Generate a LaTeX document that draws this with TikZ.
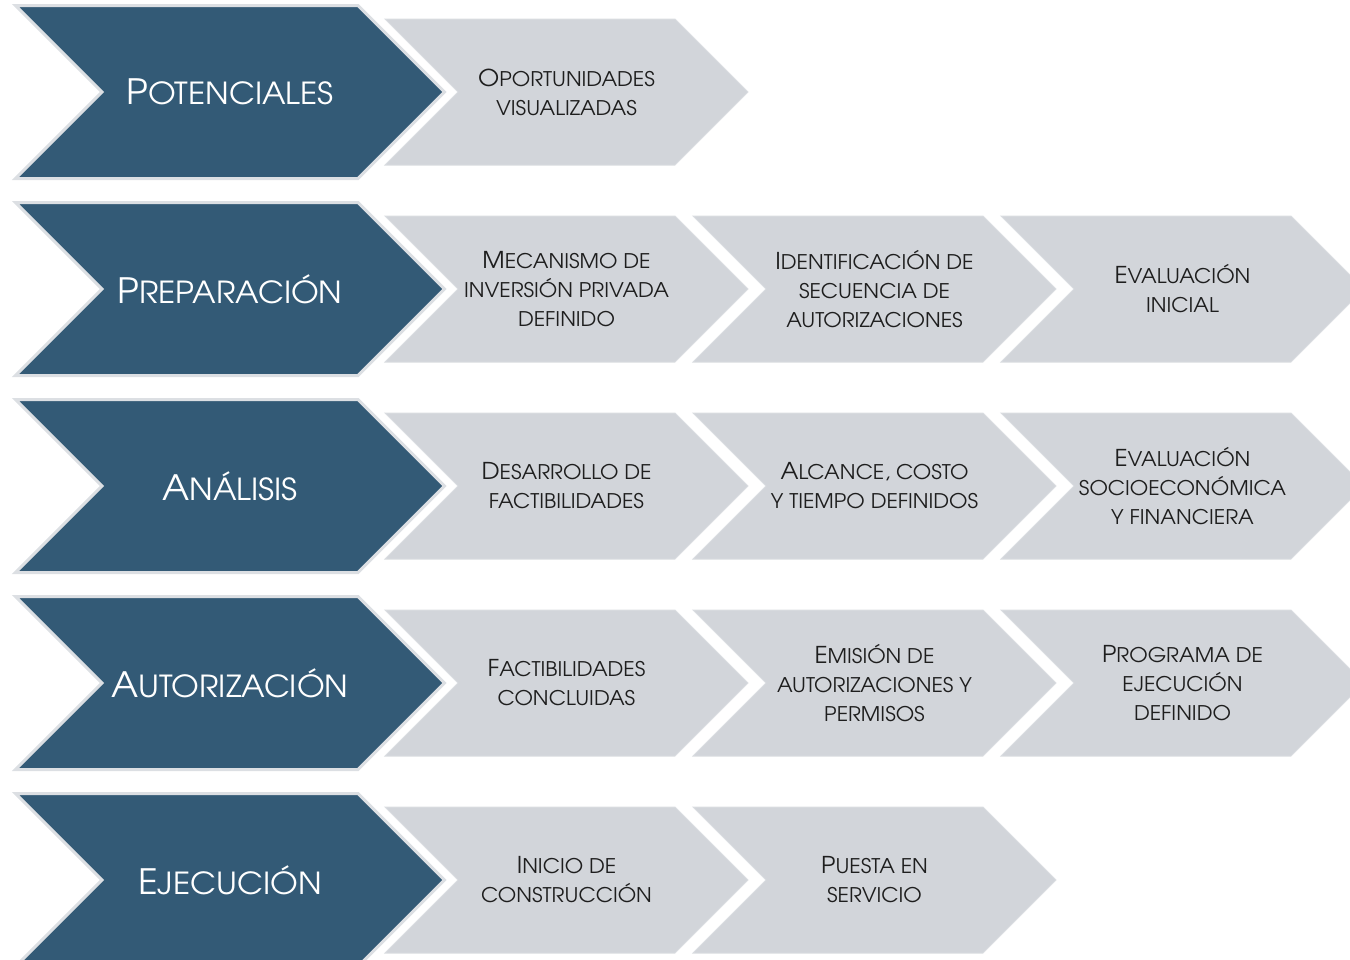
\documentclass[tikz,border=0pt]{standalone}
\usepackage{fontspec}
\setmainfont[FakeStretch=1.05]{TeX Gyre Adventor}
\usepackage{xcolor}
\usepackage{tikz}
\usetikzlibrary{shapes.symbols}

\definecolor{stagefill}{HTML}{335A76}
\definecolor{stageline}{HTML}{DCDFE3}
\definecolor{stepfill}{HTML}{D2D5DA}
\definecolor{stepline}{HTML}{DADDE1}
\definecolor{steptext}{HTML}{1E1E1E}

% small capitals by hand
\newcommand{\sml}[1]{{\fontsize{0.87em}{\baselineskip}\selectfont\MakeUppercase{#1}}}

\begin{document}
\begin{tikzpicture}[
  x=0.75pt, y=-0.75pt,
  chevron/.style={signal, signal to=east, signal from=west, signal pointer angle=90, inner sep=0pt, align=center},
  stage/.style={chevron, fill=stagefill, draw=stageline, line width=2.25pt, minimum width=321.75pt, minimum height=129.75pt,
    text=white, font=\fontsize{26.2pt}{30pt}\selectfont},
  stepbox/.style={chevron, fill=stepfill, draw=stepline, line width=0.75pt, minimum width=272.25pt, minimum height=109.5pt,
    text=steptext, font=\fontsize{17.4pt}{21.75pt}\selectfont}
]
\useasboundingbox (0,0) rectangle (1350,960);

% POTENCIALES
\node[stage] (pot) at (230,92) {P\sml{otenciales}};
\node[stepbox] (potA) at (566.5,92) {O\sml{portunidades}\\\sml{visualizadas}};

% PREPARACION
\node[stage] (prep) at (230,289) {P\sml{reparación}};
\node[stepbox] (prepA) at (566.5,289) {M\sml{ecanismo de}\\\sml{inversión privada}\\\sml{definido}};
\node[stepbox] (prepB) at (874.5,289) {I\sml{dentificación de}\\\sml{secuencia de}\\\sml{autorizaciones}};
\node[stepbox] (prepC) at (1182.5,289) {E\sml{valuación}\\\sml{inicial}};

% ANALISIS
\node[stage] (anal) at (230,486) {A\sml{nálisis}};
\node[stepbox] (analA) at (566.5,486) {D\sml{esarrollo de}\\\sml{factibilidades}};
\node[stepbox] (analB) at (874.5,486) {A\sml{lcance, costo}\\\sml{y tiempo definidos}};
\node[stepbox] (analC) at (1182.5,486) {E\sml{valuación}\\\sml{socioeconómica}\\\sml{y financiera}};

% AUTORIZACION
\node[stage] (auto) at (230,683) {A\sml{utorización}};
\node[stepbox] (autoA) at (566.5,683) {F\sml{actibilidades}\\\sml{concluidas}};
\node[stepbox] (autoB) at (874.5,683) {E\sml{misión de}\\\sml{autorizaciones y}\\\sml{permisos}};
\node[stepbox] (autoC) at (1182.5,683) {P\sml{rograma de}\\\sml{ejecución}\\\sml{definido}};

% EJECUCION
\node[stage] (ejec) at (230,880) {E\sml{jecución}};
\node[stepbox] (ejecA) at (566.5,880) {I\sml{nicio de}\\\sml{construcción}};
\node[stepbox] (ejecB) at (874.5,880) {P\sml{uesta en}\\\sml{servicio}};

\end{tikzpicture}
\end{document}
